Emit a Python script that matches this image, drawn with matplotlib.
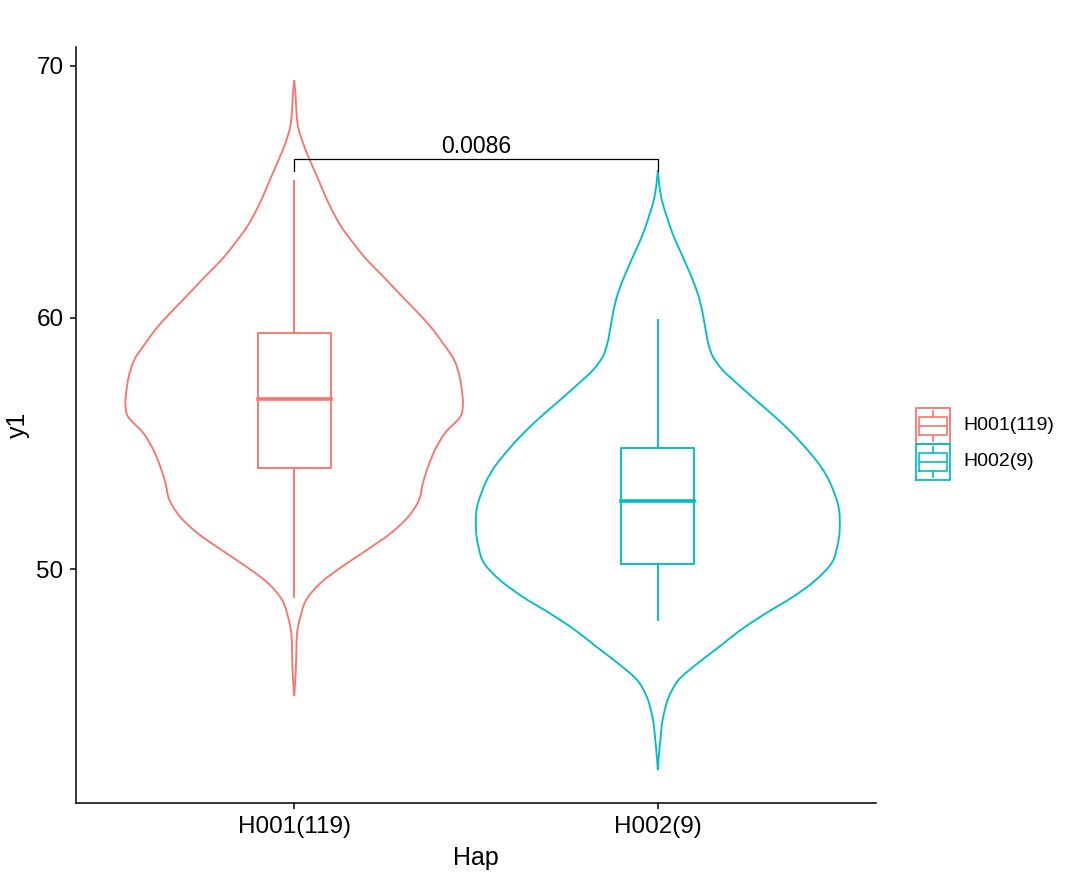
import matplotlib
matplotlib.use("Agg")
import matplotlib.pyplot as plt
from matplotlib.path import Path
from matplotlib.patches import PathPatch
import numpy as np

plt.rcParams['font.family'] = ['Liberation Sans', 'DejaVu Sans']

groups = ["H001(119)", "H002(9)"]
colors = ["#F8766D", "#00BFC4"]

# violin outline profiles: y value and half width
h001_y = [44.95, 45.6, 46.2, 46.8, 47.46, 48.1, 48.77, 49.44, 50.08, 50.76, 51.43,
          52.07, 52.74, 53.42, 54.06, 54.73, 55.41, 56.04, 56.52, 57.0, 57.65, 58.31,
          58.96, 59.62, 60.3, 60.97, 61.63, 62.29, 62.95, 63.6, 64.27, 64.95, 65.6,
          66.26, 66.9, 67.57, 68.2, 68.8, 69.44]
h001_w = [0.0, 0.003, 0.005, 0.006, 0.008, 0.017, 0.033, 0.072, 0.13, 0.2, 0.266,
          0.313, 0.343, 0.354, 0.368, 0.387, 0.415, 0.456, 0.464, 0.462, 0.455, 0.44,
          0.41, 0.376, 0.333, 0.288, 0.245, 0.2, 0.163, 0.13, 0.104, 0.082, 0.063,
          0.043, 0.025, 0.011, 0.006, 0.004, 0.0]
h002_y = [42.01, 42.6, 43.2, 43.8, 44.27, 44.91, 45.59, 46.26, 46.9, 47.57, 48.25,
          48.89, 49.56, 50.24, 50.87, 51.55, 52.47, 53.42, 54.08, 54.73, 55.38, 56.04,
          56.72, 57.4, 57.9, 58.43, 58.9, 59.38, 60.04, 60.7, 61.35, 62.01, 62.69,
          63.36, 64.0, 64.67, 65.27, 65.86]
h002_w = [0.0, 0.003, 0.007, 0.011, 0.017, 0.03, 0.057, 0.11, 0.168, 0.227, 0.298,
          0.371, 0.434, 0.478, 0.493, 0.5, 0.497, 0.474, 0.448, 0.412, 0.371, 0.323,
          0.269, 0.216, 0.179, 0.152, 0.14, 0.133, 0.125, 0.115, 0.1, 0.081, 0.06,
          0.04, 0.025, 0.011, 0.004, 0.0]

# box stats: lower whisker, q1, median, q3, upper whisker
box_stats = [[48.90, 54.03, 56.77, 59.40, 65.41],
             [47.97, 50.20, 52.72, 54.80, 59.90]]

p_value = "0.0086"
bracket_y = 66.30
bracket_tick = 65.82


def smooth_path(xs, ys):
    # curve through the read points (catmull-rom drawn as cubic beziers)
    pts = np.column_stack([xs, ys])
    verts = [pts[0]]
    codes = [Path.MOVETO]
    n = len(pts)
    for j in range(n - 1):
        p0 = pts[max(j - 1, 0)]
        p1 = pts[j]
        p2 = pts[j + 1]
        p3 = pts[min(j + 2, n - 1)]
        verts += [p1 + (p2 - p0) / 6, p2 - (p3 - p1) / 6, p2]
        codes += [Path.CURVE4] * 3
    return Path(verts, codes)


fig = plt.figure(figsize=(10.8, 8.74), dpi=100)
ax = fig.add_axes([76/1080, 1-803/874, 800/1080, 756/874])

profiles = [(h001_y, h001_w), (h002_y, h002_w)]
for i, ((yy, ww), col) in enumerate(zip(profiles, colors)):
    pos = i + 1
    yy = np.array(yy)
    ww = np.array(ww)
    for sign in (-1, 1):
        patch = PathPatch(smooth_path(pos + sign * ww, yy), facecolor='none',
                          edgecolor=col, lw=1.35)
        ax.add_patch(patch)

    lo, q1, med, q3, hi = box_stats[i]
    bw = 0.1
    ax.plot([pos, pos], [q3, hi], color=col, lw=1.35)
    ax.plot([pos, pos], [lo, q1], color=col, lw=1.35)
    ax.plot([pos-bw, pos+bw, pos+bw, pos-bw, pos-bw], [q1, q1, q3, q3, q1], color=col, lw=1.35)
    ax.plot([pos-bw, pos+bw], [med, med], color=col, lw=2.6)

# significance bracket
ax.plot([1, 1, 2, 2], [bracket_tick, bracket_y, bracket_y, bracket_tick], color='black', lw=0.9)
ax.text(1.5, bracket_y + 0.26, p_value, ha='center', va='baseline', fontsize=16.5)

ax.set_xlim(0.4, 2.6)
ax.set_ylim(40.70, 70.755)
ax.set_xticks([1, 2])
ax.set_xticklabels(groups)
ax.set_yticks([50, 60, 70])
ax.tick_params(labelsize=17.5, length=4, width=1.1, colors='black', pad=5)
ax.spines['top'].set_visible(False)
ax.spines['right'].set_visible(False)
for s in ['left', 'bottom']:
    ax.spines[s].set_linewidth(1.1)
ax.set_xlabel("Hap", fontsize=18, labelpad=6)
ax.set_ylabel("y1", fontsize=18, labelpad=5)

# legend drawn by hand as boxplot keys
lax = fig.add_axes([916/1080, 1-480/874, 34/1080, 72/874])
lax.set_xlim(0, 1)
lax.set_ylim(0, 2)
lax.axis('off')
for i, col in enumerate(colors):
    k = 1 - i
    lax.plot([0, 1, 1, 0, 0], [k, k, k+1, k+1, k], color=col, lw=1.3, clip_on=False)
    lax.plot([0.08, 0.92, 0.92, 0.08, 0.08], [k+0.26, k+0.26, k+0.74, k+0.74, k+0.26], color=col, lw=1.2)
    lax.plot([0.08, 0.92], [k+0.5, k+0.5], color=col, lw=1.2)
    lax.plot([0.5, 0.5], [k+0.74, k+0.92], color=col, lw=1.2)
    lax.plot([0.5, 0.5], [k+0.08, k+0.26], color=col, lw=1.2)
    fig.text(963/1080, 1-(426 + 36*i)/874, groups[i], ha='left', va='center', fontsize=14)

fig.savefig("out.png", dpi=100, facecolor='white')
